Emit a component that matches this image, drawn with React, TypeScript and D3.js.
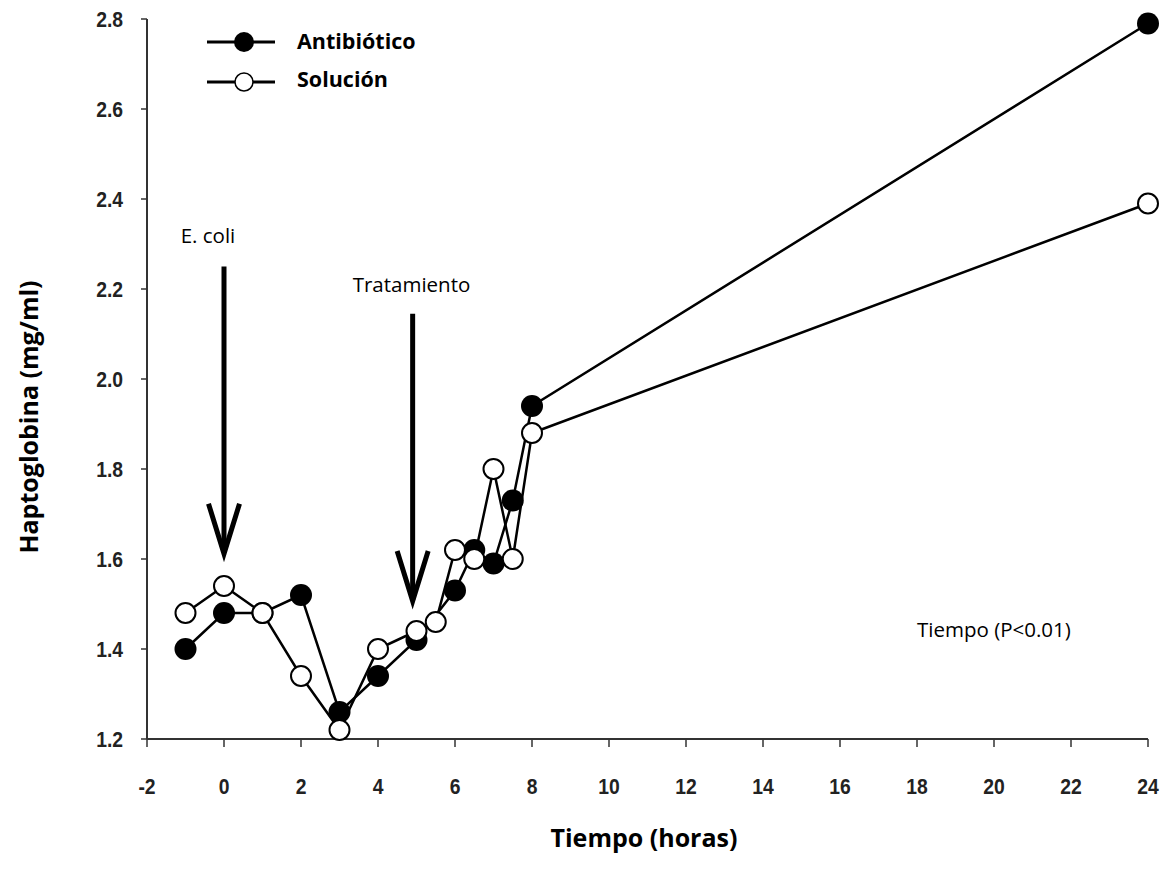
import React from "react";
import * as d3 from "d3";

// Haptoglobin concentration over time, two treatment groups
const hours = [-1, 0, 1, 2, 3, 4, 5, 5.5, 6, 6.5, 7, 7.5, 8, 24];
const hoursAntibiotico = [-1, 0, 1, 2, 3, 4, 5, 6, 6.5, 7, 7.5, 8, 24];
const antibiotico = [1.4, 1.48, 1.48, 1.52, 1.26, 1.34, 1.42, 1.53, 1.62, 1.59, 1.73, 1.94, 2.79];
const solucion = [1.48, 1.54, 1.48, 1.34, 1.22, 1.4, 1.44, 1.46, 1.62, 1.6, 1.8, 1.6, 1.88, 2.39];

const xTicks = [-2, 0, 2, 4, 6, 8, 10, 12, 14, 16, 18, 20, 22, 24];
const yTicks = [1.2, 1.4, 1.6, 1.8, 2.0, 2.2, 2.4, 2.6, 2.8];

// Event arrows: [label, hour, top value, tip value]
const events: [string, number, number, number][] = [
  ["E. coli", 0, 2.25, 1.605],
  ["Tratamiento", 4.9, 2.145, 1.5],
];

const W = 1167;
const H = 871;
const x = d3.scaleLinear().domain([-2, 24]).range([147, 1148]);
const y = d3.scaleLinear().domain([1.2, 2.8]).range([739, 19]);

const labelFont = "'Open Sans', sans-serif";
const tickFont = "'Liberation Sans', Arial, sans-serif";

export default function App() {
  const line = d3
    .line<[number, number]>()
    .x((d) => x(d[0]))
    .y((d) => y(d[1]));
  const aPts: [number, number][] = hoursAntibiotico.map((h, i) => [h, antibiotico[i]]);
  const sPts: [number, number][] = hours.map((h, i) => [h, solucion[i]]);

  return (
    <svg
      width={W}
      height={H}
      style={{ position: "absolute", left: 0, top: 0, background: "#fff" }}
    >
      <rect width={W} height={H} fill="#fff" />
      {/* axes */}
      <line x1={x(-2)} x2={x(-2)} y1={y(2.8)} y2={y(1.2)} stroke="#333" strokeWidth={2} />
      <line x1={x(-2)} x2={x(24)} y1={y(1.2)} y2={y(1.2)} stroke="#333" strokeWidth={2} />
      {yTicks.map((t) => (
        <g key={"y" + t}>
          <line x1={x(-2) - 6} x2={x(-2)} y1={y(t)} y2={y(t)} stroke="#333" strokeWidth={1.5} />
          <text
            transform={`translate(${x(-2) - 24}, ${y(t) + 8}) scale(0.92, 1.08)`}
            textAnchor="end"
            fontFamily={tickFont}
            fontWeight="bold"
            fontSize={21}
            fill="#222"
          >
            {t.toFixed(1)}
          </text>
        </g>
      ))}
      {xTicks.map((t) => (
        <g key={"x" + t}>
          <line x1={x(t)} x2={x(t)} y1={y(1.2)} y2={y(1.2) + 8} stroke="#333" strokeWidth={1.5} />
          <text
            transform={`translate(${x(t)}, 794) scale(0.92, 1.08)`}
            textAnchor="middle"
            fontFamily={tickFont}
            fontWeight="bold"
            fontSize={21}
            fill="#222"
          >
            {t}
          </text>
        </g>
      ))}

      {/* axis titles */}
      <text
        x={644}
        y={847}
        textAnchor="middle"
        fontFamily={labelFont}
        fontWeight="bold"
        fontSize={25}
      >
        Tiempo (horas)
      </text>
      <text
        transform={`translate(38, 417) rotate(-90)`}
        textAnchor="middle"
        fontFamily={labelFont}
        fontWeight="bold"
        fontSize={25}
      >
        Haptoglobina (mg/ml)
      </text>

      {/* event arrows */}
      {events.map(([label, h, top, tip], i) => {
        const cx = x(h);
        const ty = y(tip);
        return (
          <g key={label}>
            <line x1={cx} x2={cx} y1={y(top)} y2={ty - 4} stroke="#000" strokeWidth={5} />
            <path
              d={`M${cx - 15.5},${ty - 53} L${cx},${ty - 3} L${cx + 15.5},${ty - 53}`}
              fill="none"
              stroke="#000"
              strokeWidth={5}
            />
            <text
              x={i === 0 ? cx - 16 : cx - 60}
              y={y(top) - (i === 0 ? 23.5 : 22)}
              textAnchor={i === 0 ? "middle" : "start"}
              fontFamily={labelFont}
              fontSize={20.5}
            >
              {label}
            </text>
          </g>
        );
      })}

      {/* series */}
      <path d={line(aPts) ?? ""} fill="none" stroke="#000" strokeWidth={2.5} />
      <path d={line(sPts) ?? ""} fill="none" stroke="#000" strokeWidth={2.5} />
      {aPts.map((p, i) => (
        <circle key={"a" + i} cx={x(p[0])} cy={y(p[1])} r={11} fill="#000" />
      ))}
      {sPts.map((p, i) => (
        <circle
          key={"s" + i}
          cx={x(p[0])}
          cy={y(p[1])}
          r={10}
          fill="#fff"
          stroke="#000"
          strokeWidth={2}
        />
      ))}

      {/* legend */}
      <g>
        <line x1={207} x2={275} y1={42} y2={42} stroke="#000" strokeWidth={3} />
        <circle cx={244} cy={42} r={10} fill="#000" />
        <text x={297} y={49} fontFamily={labelFont} fontWeight="bold" fontSize={21.5}>
          Antibiótico
        </text>
        <line x1={207} x2={275} y1={82} y2={82} stroke="#000" strokeWidth={3} />
        <circle cx={244} cy={82} r={9} fill="#fff" stroke="#000" strokeWidth={1.5} />
        <text x={297} y={87} fontFamily={labelFont} fontWeight="bold" fontSize={21.5}>
          Solución
        </text>
      </g>

      <text x={917} y={637} fontFamily={labelFont} fontSize={20.5}>
        Tiempo (P&lt;0.01)
      </text>
    </svg>
  );
}
